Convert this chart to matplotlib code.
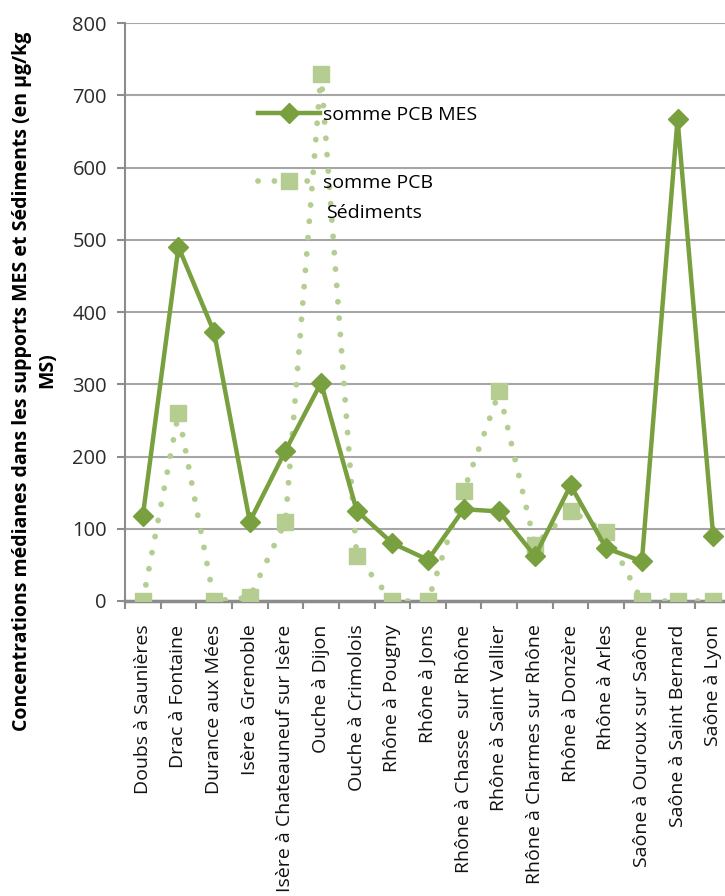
import matplotlib
matplotlib.use("Agg")
import matplotlib.pyplot as plt
from matplotlib.lines import Line2D

# --- data ---
stations = ["Doubs à Saunières", "Drac à Fontaine", "Durance aux Mées",
            "Isère à Grenoble", "Isère à Chateauneuf sur Isère", "Ouche à Dijon",
            "Ouche à Crimolois", "Rhône à Pougny", "Rhône à Jons",
            "Rhône à Chasse  sur Rhône", "Rhône à Saint Vallier",
            "Rhône à Charmes sur Rhône", "Rhône à Donzère", "Rhône à Arles",
            "Saône à Ouroux sur Saône", "Saône à Saint Bernard", "Saône à Lyon"]
pcb_mes = [118, 490, 372, 110, 208, 302, 125, 80, 57, 127, 124, 62, 160, 73, 55, 667, 90]
pcb_sed = [0, 260, 0, 5, 110, 730, 62, 0, 0, 152, 290, 78, 125, 95, 0, 0, 0]
yticks = [0, 100, 200, 300, 400, 500, 600, 700, 800]

dark = "#79A03E"
light = "#B5CD91"
grid = "#A6A6A6"
dots = (0, (0.01, 2.8))

plt.rcParams['font.family'] = ['Open Sans', 'DejaVu Sans']

fig = plt.figure(figsize=(7.25, 8.96), dpi=100)
ax = fig.add_axes([125/725, (896-601)/896, 606/725, (601-23)/896])

x = [i + 0.5 for i in range(len(stations))]
ax.plot(x, pcb_sed, color=light, lw=4.2, linestyle=dots,
        dash_capstyle="round", marker="s", markersize=12, zorder=3)
ax.plot(x, pcb_mes, color=dark, lw=3.2, marker="D", markersize=10, zorder=4)

ax.set_xlim(0, len(stations))
ax.set_ylim(0, 800)
ax.set_yticks(yticks)
ax.set_yticklabels([str(v) for v in yticks], fontsize=14.5, color="#2b2b2b")
ax.set_xticks(range(len(stations) + 1))
ax.set_xticklabels([])
ax.set_xticks(x, minor=True)
ax.set_xticklabels(stations, minor=True, rotation=90, fontsize=14, color="#111111")
ax.tick_params(axis="x", which="minor", length=0, pad=17)
ax.tick_params(axis="x", which="major", length=6, width=1.5, color="#8C8C8C")
ax.tick_params(axis="y", length=6, width=1.5, color="#8C8C8C", pad=7)

ax.yaxis.grid(True, color=grid, lw=1.5)
ax.set_axisbelow(True)
for s in ["top", "right"]:
    ax.spines[s].set_visible(False)
ax.spines["left"].set_color("#8C8C8C")
ax.spines["bottom"].set_color("#8C8C8C")
ax.spines["left"].set_linewidth(1.5)
ax.spines["bottom"].set_linewidth(2.5)

handles = [
    Line2D([], [], color=dark, lw=3.2, marker="D", markersize=10),
    Line2D([], [], color=light, lw=4.2, linestyle=dots,
           dash_capstyle="round", marker="s", markersize=12),
]
leg = ax.legend(handles, ["somme PCB MES", "somme PCB"],
                loc="upper left", bbox_to_anchor=(0.203, 0.874), frameon=False,
                fontsize=14, handlelength=3.2, labelspacing=2.6, handletextpad=0.15,
                borderpad=0)
fig.text(326/725, 1 - 213/896, "Sédiments", ha="left", va="center", fontsize=14)

fig.text(22/725, 1 - 381/896,
         "Concentrations médianes dans les supports MES et Sédiments (en µg/kg",
         rotation=90, ha="center", va="center", fontsize=14, fontweight="bold")
fig.text(47/725, 1 - 370/896, "MS)", rotation=90, ha="center", va="center",
         fontsize=14, fontweight="bold")

fig.savefig("out.png", dpi=100)
